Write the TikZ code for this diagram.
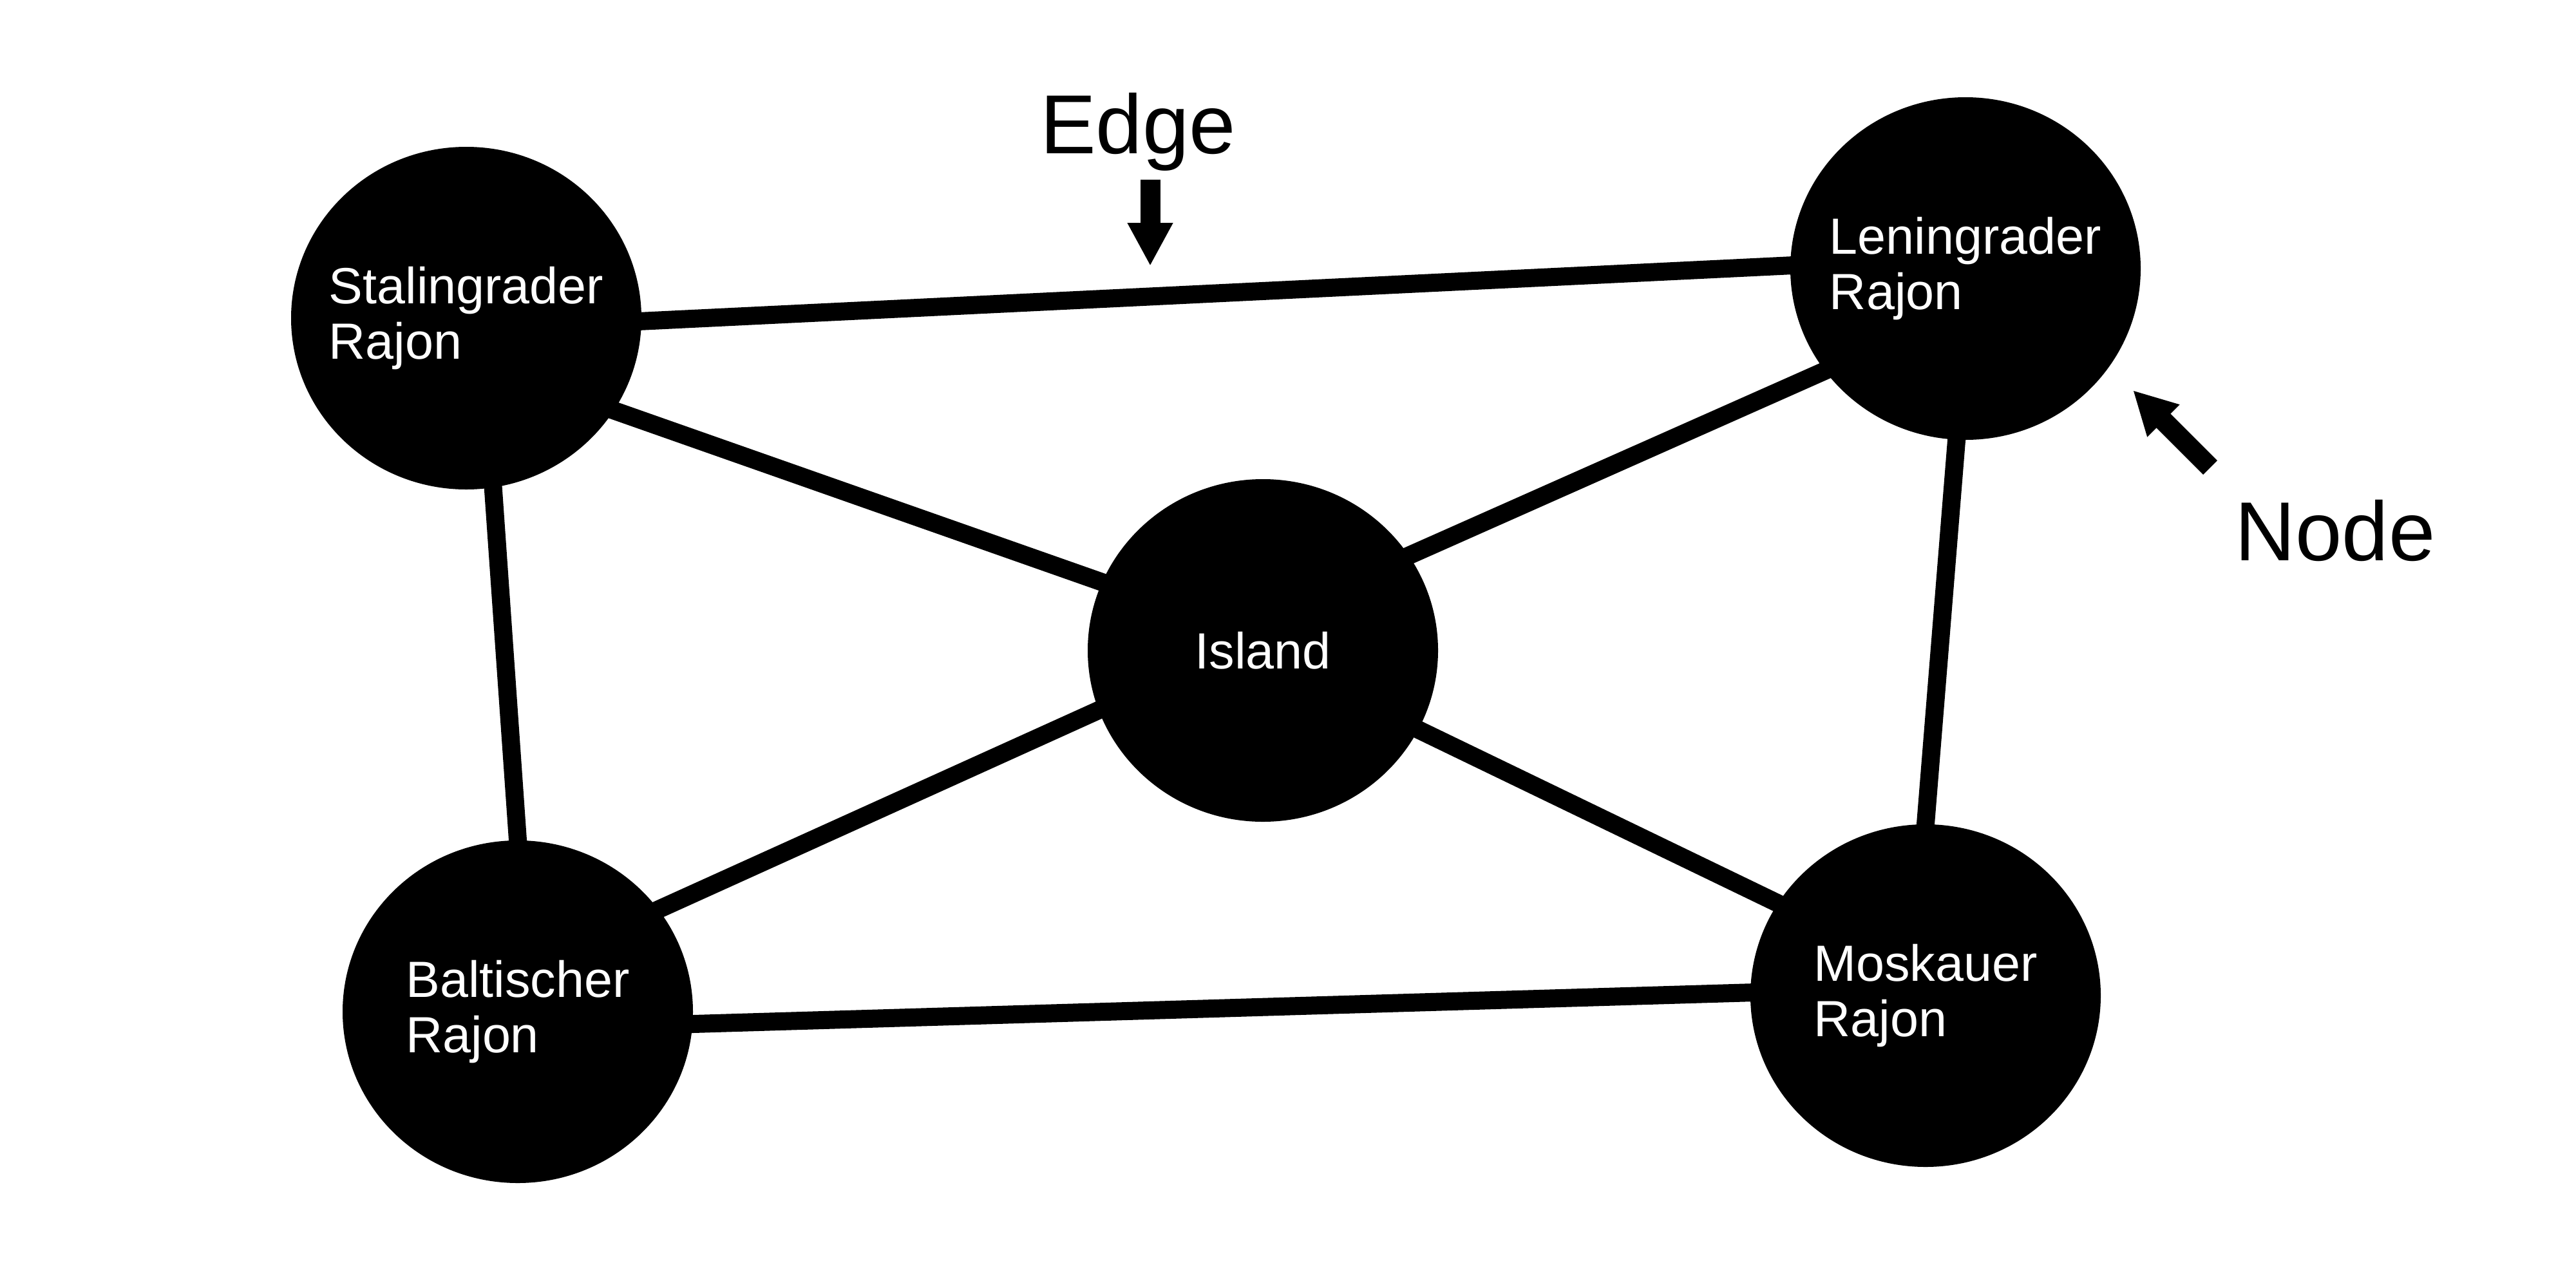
\documentclass[tikz,border=0pt]{standalone}
\usepackage{fontspec}
\setmainfont{Liberation Sans}
\usetikzlibrary{shapes.geometric, arrows.meta, backgrounds}

\begin{document}
\begin{tikzpicture}[
		district/.style={ellipse, fill=black, text=white, minimum width=5.44cm, minimum height=5.32cm,
				inner xsep=-0.4cm, inner ysep=0pt, align=left, font=\fontsize{22.5}{24.7}\selectfont},
		link/.style={line width=0.28cm, shorten <=-4mm, shorten >=-4mm},
		tag/.style={font=\fontsize{37}{40}\selectfont, anchor=base},
		pointer/.style={line width=0.31cm, -{Triangle[length=0.67cm, width=0.66cm]}}
	]
		\useasboundingbox (0,0) rectangle (40,-20);
		% districts
		\node[district] (stal) at (7.24,-4.94) {Stalingrader\\Rajon};
		\node[district] (len) at (30.52,-4.17) {Leningrader\\Rajon};
		\node[district] (isl) at (19.61,-10.10) {Island};
		\node[district] (balt) at (8.04,-15.71) {Baltischer\\Rajon};
		\node[district] (mosk) at (29.90,-15.46) {Moskauer\\Rajon};
		% edges
		\begin{scope}[on background layer]
				\draw[link] (stal.-1.5) -- (len.179);
				\draw[link] (stal.-32) -- (isl.157);
				\draw[link] (stal.-81) -- (balt.90);
				\draw[link] (len.216) -- (isl.33);
				\draw[link] (len.267.5) -- (mosk.90);
				\draw[link] (isl.200) -- (balt.36.5);
				\draw[link] (isl.-27.5) -- (mosk.148);
				\draw[link] (balt.-4.8) -- (mosk.179);
			\end{scope}
		% labels
		\node[tag] (edgetag) at (17.67,-2.38) {Edge};
		\node[tag] (nodetag) at (36.26,-8.70) {Node};
		\coordinate (edgefrom) at (17.86,-2.79);
		\coordinate (edgeto) at (17.86,-4.13);
		\coordinate (nodefrom) at (34.32,-7.26);
		\coordinate (nodeto) at (33.12,-6.06);
		\draw[pointer] (edgefrom) -- (edgeto);
		\draw[pointer] (nodefrom) -- (nodeto);
	\end{tikzpicture}
\end{document}
